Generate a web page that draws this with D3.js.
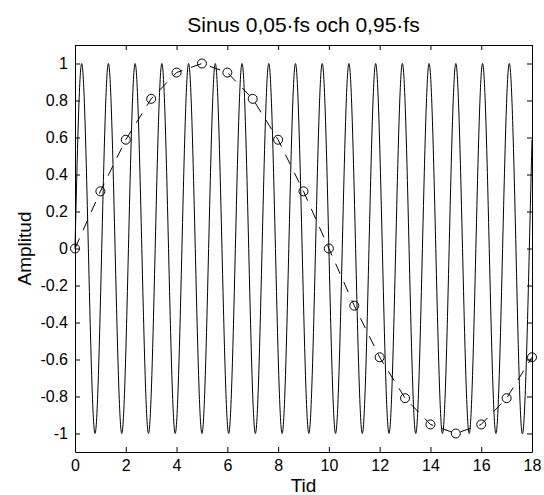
<!DOCTYPE html>
<html>
<head>
<meta charset="utf-8">
<script src="https://cdn.jsdelivr.net/npm/d3@7"></script>
<style>
body { margin: 0; background: #fff; }
svg { display: block; font-family: 'Liberation Sans', Arial, sans-serif; }
</style>
</head>
<body>
<div id="chart"></div>
<script>
'use strict';

/* global d3 */

// samples of the 0,05*fs sinus (circles, dashed)
var sampleIndex = [0, 1, 2, 3, 4, 5, 6, 7, 8, 9, 10, 11, 12, 13, 14, 15, 16, 17, 18];
var sampleValues = [0, 0.309, 0.588, 0.809, 0.951, 1, 0.951, 0.809, 0.588, 0.309, 0, -0.309, -0.588, -0.809, -0.951, -1, -0.951, -0.809, -0.588];

// 0,95*fs sinus: zero crossings and extremes
var fastTimes = [0, 0.263, 0.526, 0.789, 1.053, 1.316, 1.579, 1.842, 2.105, 2.368, 2.632, 2.895, 3.158, 3.421, 3.684, 3.947,
	4.211, 4.474, 4.737, 5.0, 5.263, 5.526, 5.789, 6.053, 6.316, 6.579, 6.842, 7.105, 7.368, 7.632, 7.895, 8.158,
	8.421, 8.684, 8.947, 9.211, 9.474, 9.737, 10.0, 10.263, 10.526, 10.789, 11.053, 11.316, 11.579, 11.842, 12.105, 12.368,
	12.632, 12.895, 13.158, 13.421, 13.684, 13.947, 14.211, 14.474, 14.737, 15.0, 15.263, 15.526, 15.789, 16.053, 16.316, 16.579,
	16.842, 17.105, 17.368, 17.632, 17.895, 18];
var fastValues = [0, 1, 0, -1, 0, 1, 0, -1, 0, 1, 0, -1, 0, 1, 0, -1,
	0, 1, 0, -1, 0, 1, 0, -1, 0, 1, 0, -1, 0, 1, 0, -1,
	0, 1, 0, -1, 0, 1, 0, -1, 0, 1, 0, -1, 0, 1, 0, -1,
	0, 1, 0, -1, 0, 1, 0, -1, 0, 1, 0, -1, 0, 1, 0, -1,
	0, 1, 0, -1, 0, 0.588];

var xTicks = [0, 2, 4, 6, 8, 10, 12, 14, 16, 18];
var yTicks = [-1, -0.8, -0.6, -0.4, -0.2, 0, 0.2, 0.4, 0.6, 0.8, 1];

var chartTitle = 'Sinus 0,05\u00b7fs och 0,95\u00b7fs';
var xLabel = 'Tid';
var yLabel = 'Amplitud';

function drawChart() {
	var width = 544;
	var height = 495;
	var margins = {
		left: 75,
		right: 12,
		top: 45,
		bottom: 43
	};
	var graphWidth = width - margins.left - margins.right;
	var graphHeight = height - margins.top - margins.bottom;

	var svg = d3.select('#chart').append('svg').attr('width', width).attr('height', height);

	svg.append('rect').attr('width', width).attr('height', height).attr('fill', '#fff');

	var g = svg.append('g').attr('transform', 'translate(' + margins.left + ',' + margins.top + ')');

	var x = d3.scaleLinear().domain([0, 18]).range([0, graphWidth]);
	var y = d3.scaleLinear().domain([-1.1, 1.1]).range([graphHeight, 0]);

	var yFormat = function (d) {
		return String(+d.toFixed(1));
	};

	var bottomAxis = g.append('g').attr('class', 'axis').attr('transform', 'translate(0,' + graphHeight + ')')
		.call(d3.axisBottom(x).tickValues(xTicks).tickSizeInner(-5).tickSizeOuter(0).tickPadding(8));
	var leftAxis = g.append('g').attr('class', 'axis')
		.call(d3.axisLeft(y).tickValues(yTicks).tickFormat(yFormat).tickSizeInner(-5).tickSizeOuter(0).tickPadding(7));
	g.append('g').attr('class', 'axis')
		.call(d3.axisTop(x).tickValues(xTicks).tickFormat('').tickSizeInner(-5).tickSizeOuter(0));
	g.append('g').attr('class', 'axis').attr('transform', 'translate(' + graphWidth + ',0)')
		.call(d3.axisRight(y).tickValues(yTicks).tickFormat('').tickSizeInner(-5).tickSizeOuter(0));

	g.selectAll('.axis path, .axis line').attr('stroke', '#000');
	bottomAxis.selectAll('text').attr('font-size', 16).attr('fill', '#000').attr('font-family', null);
	leftAxis.selectAll('text').attr('font-size', 16).attr('fill', '#000').attr('font-family', null);

	// fast sinus, solid
	var fastData = fastTimes.map(function (t, i) {
		return { t: t, v: fastValues[i] };
	});
	var fastLine = d3.line().x(function (d) {
		return x(d.t);
	}).y(function (d) {
		return y(d.v);
	}).curve(d3.curveNatural);

	g.append('path').datum(fastData).attr('d', fastLine).attr('fill', 'none').attr('stroke', '#000').attr('stroke-width', 1);

	// slow sinus samples, dashed with circles
	var sampleData = sampleIndex.map(function (n, i) {
		return { t: n, v: sampleValues[i] };
	});
	var sampleLine = d3.line().x(function (d) {
		return x(d.t);
	}).y(function (d) {
		return y(d.v);
	});

	g.append('path').datum(sampleData).attr('d', sampleLine).attr('fill', 'none').attr('stroke', '#000').attr('stroke-width', 1).attr('stroke-dasharray', '11,9');

	g.selectAll('circle.sample').data(sampleData).enter().append('circle').attr('class', 'sample').attr('cx', function (d) {
		return x(d.t);
	}).attr('cy', function (d) {
		return y(d.v);
	}).attr('r', 4.5).attr('fill', 'none').attr('stroke', '#000').attr('stroke-width', 1);

	// texts
	svg.append('text').attr('x', margins.left + graphWidth / 2).attr('y', 32).attr('text-anchor', 'middle').attr('font-size', 21).text(chartTitle);

	svg.append('text').attr('x', margins.left + graphWidth / 2).attr('y', 492).attr('text-anchor', 'middle').attr('font-size', 19).text(xLabel);

	svg.append('text').attr('transform', 'translate(31,' + (margins.top + graphHeight / 2) + ') rotate(-90)').attr('text-anchor', 'middle').attr('font-size', 19).text(yLabel);
}

drawChart();
</script>
</body>
</html>
